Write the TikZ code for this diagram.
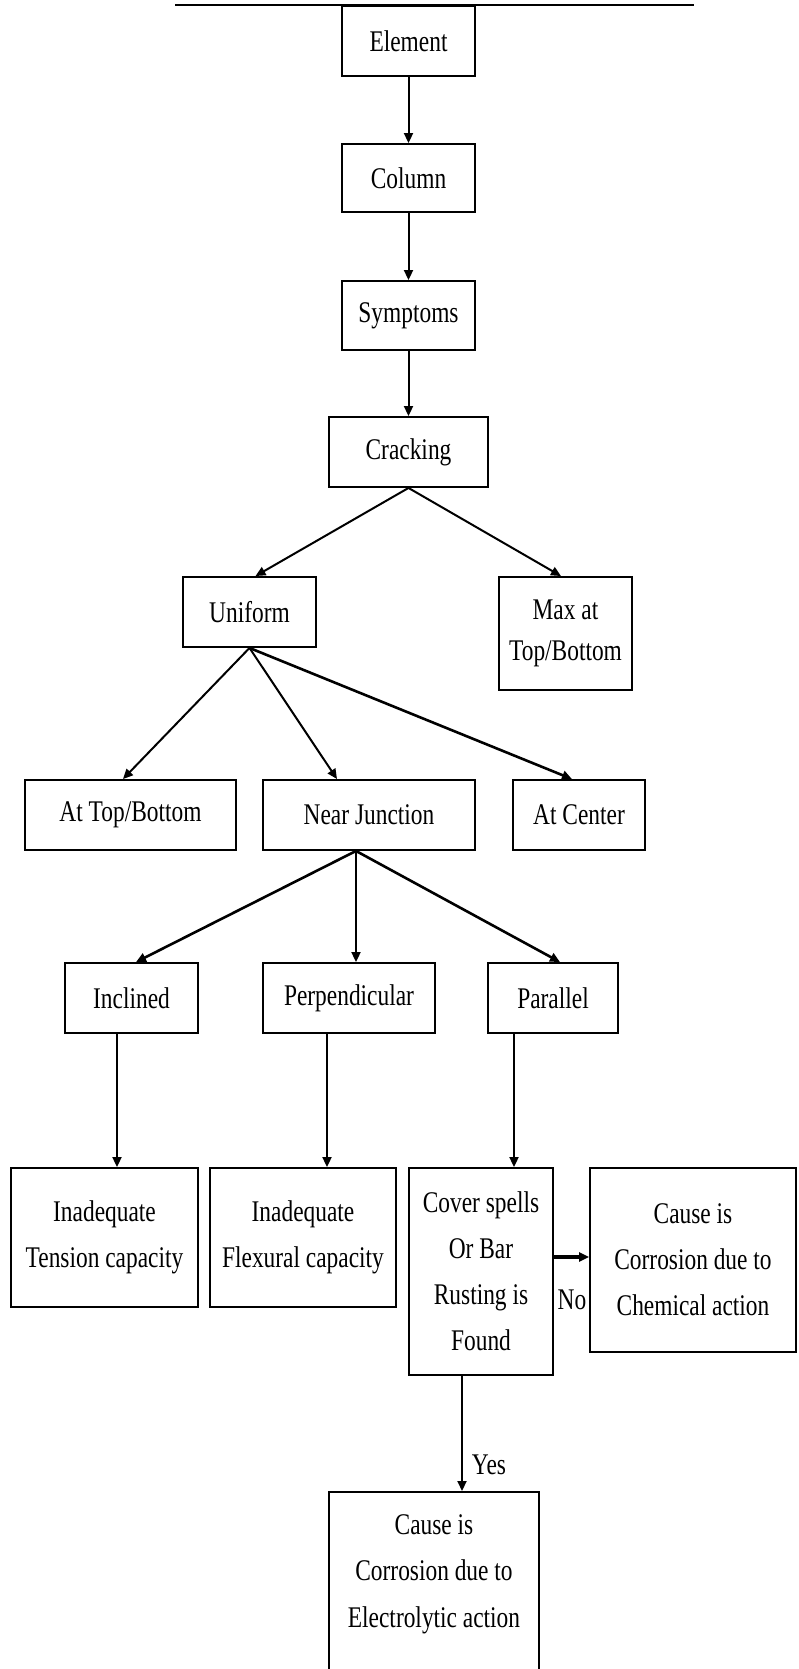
\documentclass[tikz,border=0pt]{standalone}
\usepackage{fontspec}
\setmainfont{Liberation Serif}[FakeStretch=0.78]
\usetikzlibrary{arrows.meta,calc}
\begin{document}
\begin{tikzpicture}[x=1pt,y=-1pt,
  box/.style={draw, line width=1.9pt, inner sep=0pt, align=center, font=\fontsize{30}{46}\selectfont},
  arr/.style={line width=2pt, -{Triangle[length=10pt,width=9pt]}},
  lbl/.style={inner sep=0pt, align=center, font=\fontsize{30}{46.5}\selectfont}]
\useasboundingbox (0,0) rectangle (798,1669);
% title underline (text cut off in the original)
\draw[line width=2.6pt] (175,5) -- (694,5);
% boxes
\node[box, minimum width=133pt, minimum height=70pt] (elem) at (408.5,41) {Element};
\node[box, minimum width=133pt, minimum height=68pt] (col) at (408.5,178) {Column};
\node[box, minimum width=133pt, minimum height=69pt] (sym) at (408.5,315.5) {Symptoms};
\node[box, minimum width=159pt, minimum height=70pt] (crack) at (408.5,452) {Cracking};
\node[box, minimum width=133pt, minimum height=70pt] (unif) at (249.5,612) {Uniform};
\node[box, minimum width=133pt, minimum height=113pt, font=\fontsize{30}{41}\selectfont] (max) at (565.5,633.5) {Max at\\Top/Bottom};
\node[box, minimum width=211pt, minimum height=70pt] (attb) at (130.5,815) {At Top/Bottom};
\node[box, minimum width=212pt, minimum height=70pt] (nearj) at (369,815) {Near Junction};
\node[box, minimum width=132pt, minimum height=70pt] (atc) at (579,815) {At Center};
\node[box, minimum width=133pt, minimum height=70pt] (incl) at (131.5,998) {Inclined};
\node[box, minimum width=172pt, minimum height=70pt] (perp) at (349,998) {Perpendicular};
\node[box, minimum width=130pt, minimum height=70pt] (para) at (553,998) {Parallel};
\node[box, minimum width=187pt, minimum height=139pt] (tens) at (104.5,1237.5) {Inadequate\\Tension capacity};
\node[box, minimum width=186pt, minimum height=139pt] (flex) at (303,1237.5) {Inadequate\\Flexural capacity};
\node[box, minimum width=144pt, minimum height=207pt] (cover) at (481,1271.5) {Cover spells\\Or Bar\\Rusting is\\Found};
\node[box, minimum width=206pt, minimum height=184pt] (chem) at (693,1260) {Cause is\\Corrosion due to\\Chemical action};
\node[box, minimum width=210pt, minimum height=260pt, anchor=north] (elec) at (434,1491) {};
\node[lbl, anchor=north] (electxt) at (434,1514) {Cause is\\Corrosion due to\\Electrolytic action};
% labels
\node[lbl] (no) at (572,1300) {No};
\node[lbl] (yes) at (489,1465) {Yes};
% connectors
\draw[arr] (elem.south) -- (col.north);
\draw[arr] (col.south) -- (sym.north);
\draw[arr] (sym.south) -- (crack.north);
\draw[arr] (crack.south) -- ($(unif.north)+(6,0)$);
\draw[arr] (crack.south) -- ($(max.north)+(-4.5,0)$);
\draw[arr] (unif.south) -- ($(attb.north)+(-7.5,0)$);
\draw[arr] (unif.south) -- ($(nearj.north)+(-32,0)$);
\draw[arr, line width=2.6pt] (unif.south) -- ($(atc.north)+(-7,0)$);
\coordinate (nj) at ($(nearj.south)+(-13,0)$);
\draw[arr, line width=2.6pt] (nj) -- ($(incl.north)+(4.5,0)$);
\draw[arr] (nj) -- (nj |- perp.north);
\draw[arr, line width=2.6pt] (nj) -- ($(para.north)+(7,0)$);
\coordinate (inclS) at ($(incl.south)+(-14.5,0)$);
\draw[arr] (inclS) -- (inclS |- tens.north);
\coordinate (perpS) at ($(perp.south)+(-22,0)$);
\draw[arr] (perpS) -- (perpS |- flex.north);
\coordinate (paraS) at ($(para.south)+(-39,0)$);
\draw[arr] (paraS) -- (paraS |- cover.north);
\coordinate (noS) at ($(cover.east)+(0,-14.5)$);
\draw[arr, line width=3.5pt] (noS) -- (noS -| chem.west);
\coordinate (yesS) at ($(cover.south)+(-19,0)$);
\draw[arr] (yesS) -- (yesS |- elec.north);
\end{tikzpicture}
\end{document}
